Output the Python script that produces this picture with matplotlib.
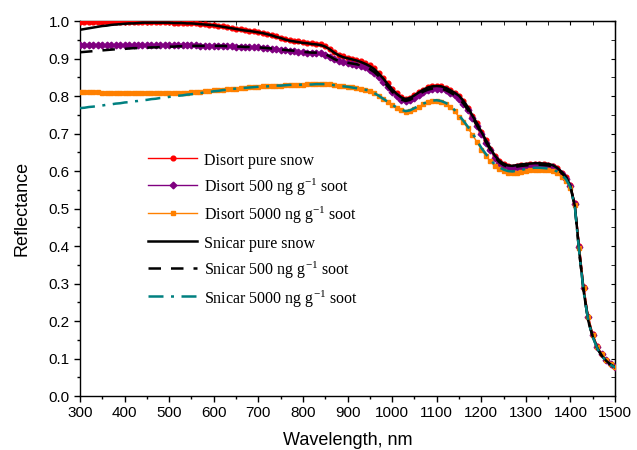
"""Spectral snow reflectance: Disort vs Snicar for pure and sooty snow."""
import matplotlib
matplotlib.use("Agg")
import matplotlib.pyplot as plt  # noqa: E402
from matplotlib.ticker import MultipleLocator  # noqa: E402

# wavelength grid, nm (300 ... 1500 every 10 nm); rows below hold 10 values each
wavelength = list(range(300, 1501, 10))

disort_pure = [0.997, 0.997, 0.997, 0.997, 0.997, 0.997, 0.997, 0.997, 0.997, 0.997,
               0.997, 0.997, 0.997, 0.997, 0.997, 0.997, 0.997, 0.997, 0.997, 0.997,
               0.997, 0.996, 0.996, 0.996, 0.995, 0.995, 0.994, 0.993, 0.992, 0.991,
               0.990, 0.988, 0.986, 0.984, 0.982, 0.980, 0.978, 0.976, 0.975, 0.973,
               0.971, 0.969, 0.966, 0.963, 0.960, 0.956, 0.953, 0.950, 0.948, 0.946,
               0.944, 0.943, 0.941, 0.940, 0.938, 0.934, 0.927, 0.918, 0.911, 0.906,
               0.903, 0.900, 0.897, 0.893, 0.888, 0.882, 0.874, 0.862, 0.849, 0.834,
               0.820, 0.807, 0.798, 0.793, 0.796, 0.802, 0.810, 0.817, 0.823, 0.826,
               0.827, 0.826, 0.822, 0.816, 0.809, 0.800, 0.786, 0.769, 0.747, 0.727,
               0.704, 0.682, 0.660, 0.640, 0.626, 0.618, 0.613, 0.612, 0.614, 0.616,
               0.617, 0.618, 0.619, 0.619, 0.618, 0.617, 0.614, 0.607, 0.596, 0.583,
               0.562, 0.515, 0.400, 0.290, 0.212, 0.165, 0.133, 0.112, 0.097, 0.086,
               0.078]

disort_500 = [0.936, 0.936, 0.936, 0.936, 0.936, 0.936, 0.936, 0.936, 0.936, 0.936,
              0.936, 0.936, 0.936, 0.936, 0.936, 0.936, 0.936, 0.936, 0.936, 0.936,
              0.936, 0.936, 0.936, 0.936, 0.936, 0.936, 0.936, 0.935, 0.935, 0.935,
              0.935, 0.934, 0.934, 0.933, 0.933, 0.932, 0.932, 0.931, 0.931, 0.930,
              0.930, 0.929, 0.928, 0.926, 0.925, 0.923, 0.922, 0.921, 0.920, 0.918,
              0.917, 0.916, 0.915, 0.915, 0.914, 0.911, 0.905, 0.898, 0.893, 0.890,
              0.888, 0.886, 0.884, 0.881, 0.877, 0.871, 0.863, 0.852, 0.839, 0.825,
              0.811, 0.799, 0.790, 0.786, 0.789, 0.796, 0.804, 0.811, 0.816, 0.819,
              0.820, 0.819, 0.815, 0.809, 0.802, 0.793, 0.779, 0.762, 0.741, 0.720,
              0.698, 0.676, 0.655, 0.636, 0.622, 0.614, 0.609, 0.608, 0.610, 0.612,
              0.613, 0.614, 0.615, 0.615, 0.614, 0.613, 0.610, 0.603, 0.593, 0.580,
              0.559, 0.513, 0.398, 0.289, 0.211, 0.164, 0.132, 0.111, 0.096, 0.085,
              0.077]

disort_5000 = [0.812, 0.811, 0.811, 0.810, 0.810, 0.809, 0.809, 0.808, 0.808, 0.808,
               0.808, 0.807, 0.807, 0.807, 0.807, 0.807, 0.807, 0.807, 0.807, 0.807,
               0.807, 0.808, 0.808, 0.809, 0.809, 0.810, 0.811, 0.812, 0.813, 0.814,
               0.815, 0.816, 0.817, 0.818, 0.819, 0.820, 0.821, 0.822, 0.823, 0.824,
               0.825, 0.826, 0.826, 0.827, 0.828, 0.828, 0.829, 0.830, 0.830, 0.830,
               0.830, 0.831, 0.831, 0.832, 0.832, 0.832, 0.831, 0.829, 0.827, 0.826,
               0.825, 0.823, 0.821, 0.819, 0.816, 0.813, 0.807, 0.800, 0.792, 0.783,
               0.775, 0.768, 0.762, 0.758, 0.760, 0.766, 0.772, 0.778, 0.783, 0.786,
               0.787, 0.785, 0.780, 0.772, 0.759, 0.745, 0.730, 0.714, 0.697, 0.678,
               0.657, 0.641, 0.626, 0.613, 0.605, 0.599, 0.595, 0.594, 0.596, 0.598,
               0.601, 0.603, 0.604, 0.604, 0.603, 0.602, 0.599, 0.594, 0.585, 0.573,
               0.555, 0.510, 0.396, 0.288, 0.210, 0.164, 0.132, 0.111, 0.096, 0.085,
               0.077]

snicar_pure = [0.977, 0.979, 0.981, 0.983, 0.985, 0.987, 0.988, 0.990, 0.991, 0.992,
               0.993, 0.994, 0.994, 0.995, 0.996, 0.996, 0.996, 0.996, 0.996, 0.996,
               0.996, 0.995, 0.995, 0.995, 0.994, 0.994, 0.993, 0.992, 0.991, 0.990,
               0.989, 0.987, 0.985, 0.983, 0.981, 0.979, 0.977, 0.975, 0.974, 0.972,
               0.970, 0.968, 0.965, 0.962, 0.958, 0.955, 0.951, 0.948, 0.946, 0.944,
               0.942, 0.941, 0.939, 0.938, 0.936, 0.932, 0.925, 0.916, 0.909, 0.904,
               0.901, 0.898, 0.895, 0.891, 0.886, 0.880, 0.872, 0.860, 0.847, 0.832,
               0.818, 0.806, 0.797, 0.792, 0.795, 0.802, 0.810, 0.817, 0.823, 0.826,
               0.827, 0.826, 0.822, 0.816, 0.809, 0.801, 0.787, 0.770, 0.748, 0.728,
               0.705, 0.683, 0.662, 0.642, 0.628, 0.620, 0.615, 0.614, 0.616, 0.618,
               0.619, 0.620, 0.621, 0.621, 0.620, 0.619, 0.616, 0.609, 0.598, 0.585,
               0.560, 0.505, 0.380, 0.275, 0.200, 0.158, 0.128, 0.108, 0.094, 0.084,
               0.077]

snicar_500 = [0.917, 0.918, 0.919, 0.920, 0.921, 0.922, 0.923, 0.924, 0.925, 0.925,
              0.926, 0.927, 0.928, 0.928, 0.929, 0.929, 0.930, 0.930, 0.931, 0.931,
              0.932, 0.932, 0.933, 0.933, 0.933, 0.934, 0.934, 0.934, 0.934, 0.934,
              0.934, 0.934, 0.934, 0.933, 0.933, 0.932, 0.932, 0.931, 0.931, 0.930,
              0.930, 0.929, 0.928, 0.927, 0.926, 0.924, 0.923, 0.922, 0.921, 0.919,
              0.918, 0.917, 0.916, 0.916, 0.915, 0.912, 0.906, 0.899, 0.894, 0.891,
              0.889, 0.887, 0.885, 0.882, 0.878, 0.872, 0.864, 0.853, 0.840, 0.826,
              0.812, 0.800, 0.791, 0.787, 0.790, 0.797, 0.805, 0.812, 0.817, 0.820,
              0.821, 0.820, 0.816, 0.810, 0.803, 0.794, 0.780, 0.763, 0.742, 0.722,
              0.700, 0.678, 0.657, 0.638, 0.624, 0.616, 0.611, 0.610, 0.612, 0.614,
              0.615, 0.616, 0.617, 0.617, 0.616, 0.615, 0.612, 0.605, 0.595, 0.582,
              0.558, 0.503, 0.379, 0.274, 0.199, 0.157, 0.127, 0.107, 0.093, 0.083,
              0.076]

snicar_5000 = [0.768, 0.769, 0.771, 0.772, 0.774, 0.775, 0.777, 0.778, 0.780, 0.781,
               0.783, 0.784, 0.786, 0.787, 0.789, 0.790, 0.792, 0.793, 0.795, 0.796,
               0.798, 0.799, 0.801, 0.802, 0.804, 0.805, 0.807, 0.808, 0.810, 0.811,
               0.813, 0.814, 0.816, 0.817, 0.819, 0.820, 0.821, 0.822, 0.823, 0.824,
               0.825, 0.826, 0.826, 0.827, 0.828, 0.828, 0.829, 0.830, 0.830, 0.830,
               0.831, 0.831, 0.831, 0.832, 0.832, 0.832, 0.831, 0.829, 0.827, 0.826,
               0.825, 0.823, 0.821, 0.819, 0.817, 0.814, 0.808, 0.801, 0.793, 0.785,
               0.777, 0.770, 0.764, 0.760, 0.762, 0.768, 0.774, 0.780, 0.785, 0.788,
               0.789, 0.787, 0.782, 0.775, 0.763, 0.749, 0.734, 0.718, 0.701, 0.682,
               0.662, 0.646, 0.631, 0.618, 0.610, 0.604, 0.600, 0.599, 0.601, 0.603,
               0.606, 0.608, 0.609, 0.609, 0.608, 0.607, 0.604, 0.599, 0.590, 0.578,
               0.556, 0.502, 0.378, 0.274, 0.199, 0.157, 0.127, 0.107, 0.093, 0.083,
               0.076]

SERIF = ["Liberation Serif", "DejaVu Serif"]
SANS = ["Liberation Sans", "DejaVu Sans"]

plt.rcParams["mathtext.fontset"] = "custom"
plt.rcParams["mathtext.rm"] = "Liberation Serif"
plt.rcParams["mathtext.it"] = "Liberation Serif:italic"

fig = plt.figure(figsize=(6.37, 4.5), dpi=100)
ax = fig.add_axes([0.1256, 0.12, 0.84, 0.833])

mk = dict(lw=1.0, ms=3.4, markevery=1, zorder=3)
ax.plot(wavelength, disort_pure, color="#ff0000", marker="o", mec="#ff0000",
        label="Disort pure snow", **mk)
ax.plot(wavelength, disort_500, color="#800080", marker="D", mec="#800080",
        label="Disort 500 ng g$^{-1}$ soot", **mk)
ax.plot(wavelength, disort_5000, color="#ff8000", marker="s", mec="#ff8000",
        label="Disort 5000 ng g$^{-1}$ soot", **mk)
ax.plot(wavelength, snicar_pure, color="black", lw=1.8, ls="-",
        label="Snicar pure snow", zorder=4)
ax.plot(wavelength, snicar_500, color="black", lw=1.8, ls=(0, (5, 4)),
        label="Snicar 500 ng g$^{-1}$ soot", zorder=4)
ax.plot(wavelength, snicar_5000, color="#008080", lw=1.8, ls=(0, (6, 3, 1.2, 3)),
        label="Snicar 5000 ng g$^{-1}$ soot", zorder=4)

ax.set_xlim(300, 1500)
ax.set_ylim(0.0, 1.0)
ax.xaxis.set_major_locator(MultipleLocator(100))
ax.xaxis.set_minor_locator(MultipleLocator(50))
ax.yaxis.set_major_locator(MultipleLocator(0.1))
ax.yaxis.set_minor_locator(MultipleLocator(0.05))
ax.tick_params(which="both", direction="out", bottom=True, left=True,
               top=False, right=False, labelsize=11, width=1.0)
ax.tick_params(which="major", length=4)
ax.tick_params(which="minor", length=2.5)
for lab in ax.get_xticklabels() + ax.get_yticklabels():
    lab.set_family(SANS)

# inward ticks on the top and right spines
sec_x = ax.secondary_xaxis("top")
sec_x.xaxis.set_major_locator(MultipleLocator(100))
sec_x.xaxis.set_minor_locator(MultipleLocator(50))
sec_x.tick_params(which="both", direction="in", labeltop=False, length=3)
sec_y = ax.secondary_yaxis("right")
sec_y.yaxis.set_major_locator(MultipleLocator(0.1))
sec_y.yaxis.set_minor_locator(MultipleLocator(0.05))
sec_y.tick_params(which="both", direction="in", labelright=False, length=3)

for sp in ax.spines.values():
    sp.set_linewidth(1.0)

ax.set_xlabel("Wavelength, nm", family=SANS, fontsize=13, labelpad=8)
ax.set_ylabel("Reflectance", family=SANS, fontsize=13, labelpad=13)

leg = ax.legend(loc="upper left", bbox_to_anchor=(0.127, 0.655), frameon=False,
                prop={"family": SERIF, "size": 11.5}, handlelength=3.1,
                handleheight=1.45, handletextpad=0.38, labelspacing=0.45,
                borderaxespad=0.0, borderpad=0.0)

fig.savefig("out.png", dpi=100)
